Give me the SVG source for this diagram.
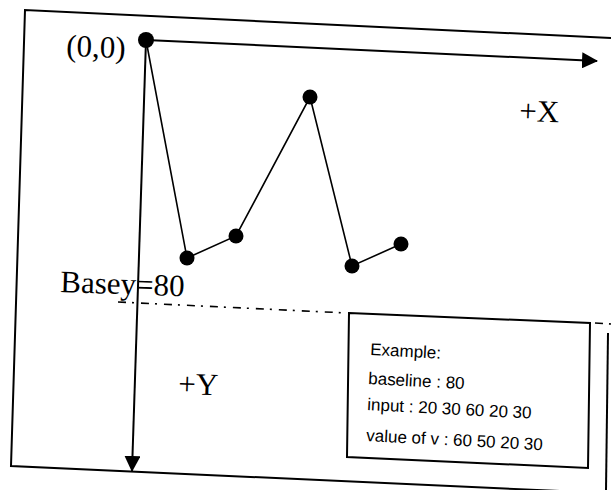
<svg xmlns="http://www.w3.org/2000/svg" width="611" height="490" viewBox="0 0 611 490">
<style>
.frame{fill:none;stroke:#000;stroke-width:2;stroke-linejoin:miter}
.axis{fill:none;stroke:#000;stroke-width:2}
.seg{fill:none;stroke:#000;stroke-width:1.6}
.dash{fill:none;stroke:#000;stroke-width:1.6;stroke-dasharray:8 6 2 7}
.dot{fill:#000}
.lbl{font-family:"Liberation Serif","Times New Roman",serif;font-size:31px;fill:#000}
.ex{font-family:"Liberation Sans",Arial,sans-serif;font-size:17px;fill:#000}
</style>
<defs>
<marker id="arr" viewBox="0 0 16 16" refX="15" refY="8" markerWidth="16" markerHeight="16" markerUnits="userSpaceOnUse" orient="auto">
<path d="M0,0 L16,8 L0,16 z" fill="#000"/>
</marker>
</defs>
<rect width="611" height="490" fill="#fff"/>
<g id="frame">
<polyline class="frame" points="611,38 25,10 11,466 560,491"/>
<line class="frame" x1="608" y1="333" x2="606" y2="490"/>
</g>
<g id="connectors">
<line id="x-axis" class="axis" x1="146" y1="40" x2="597" y2="61" marker-end="url(#arr)"/>
<line id="y-axis" class="axis" x1="146" y1="40" x2="132" y2="471" marker-end="url(#arr)"/>
<polyline id="curve" class="seg" points="146,40 187,258 236,236 310,97 352,266 401,244"/>
<line id="baseline-a" class="dash" x1="118" y1="302" x2="347" y2="313"/>
<line id="baseline-b" class="dash" x1="595" y1="323" x2="611" y2="324"/>
</g>
<g id="p0"><circle class="dot" cx="146" cy="40" r="8"/></g>
<g id="p1"><circle class="dot" cx="187" cy="258" r="7.5"/></g>
<g id="p2"><circle class="dot" cx="236" cy="236" r="7.5"/></g>
<g id="p3"><circle class="dot" cx="310" cy="97" r="7.5"/></g>
<g id="p4"><circle class="dot" cx="352" cy="266" r="7.5"/></g>
<g id="p5"><circle class="dot" cx="401" cy="244" r="7.5"/></g>
<g id="labels">
<text class="lbl" x="66" y="56" transform="rotate(2 66 56)">(0,0)</text>
<text class="lbl" x="519" y="121" transform="rotate(2 519 121)">+X</text>
<text class="lbl" x="60" y="292" transform="rotate(2 60 292)">Basey=80</text>
<text class="lbl" x="178" y="394" transform="rotate(2 178 394)">+Y</text>
</g>
<g id="example">
<polygon class="frame" points="349,313 590,323 588,468 347,457"/>
<text class="ex" x="370" y="355" transform="rotate(3 370 355)">Example:</text>
<text class="ex" x="368" y="384" transform="rotate(3 368 384)">baseline : 80</text>
<text class="ex" x="367" y="410" transform="rotate(3 367 410)">input : 20 30 60 20 30</text>
<text class="ex" x="366" y="441" transform="rotate(3 366 441)">value of v : 60 50 20 30</text>
</g>
</svg>
